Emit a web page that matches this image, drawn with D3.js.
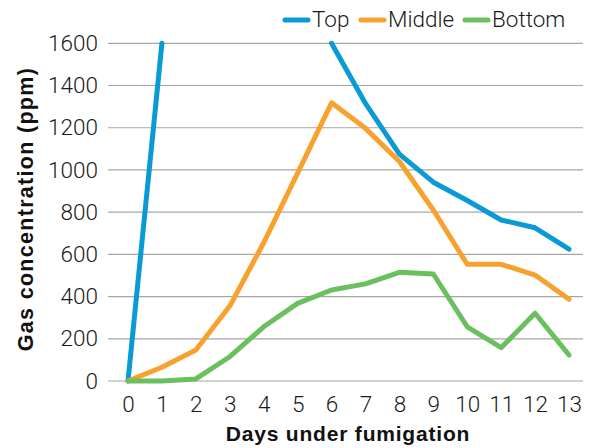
<!DOCTYPE html>
<html>
<head>
<meta charset="utf-8">
<script src="https://cdn.jsdelivr.net/npm/d3@7"></script>
<style>
  body { margin: 0; background: #fff; }
  svg text { font-family: "Liberation Sans", Arial, sans-serif; }
  .light { font-family: Roboto, "Liberation Sans", Arial, sans-serif; font-weight: 300; }
</style>
</head>
<body>
<svg width="591" height="448"></svg>
<script>
const days = [0, 1, 2, 3, 4, 5, 6, 7, 8, 9, 10, 11, 12, 13];
const yTicks = [0, 200, 400, 600, 800, 1000, 1200, 1400, 1600];
const seriesNames = ["Top", "Middle", "Bottom"];
const seriesColors = ["#0a9bd7", "#f9a12e", "#6abf5e"];
// null = off the chart (not drawn)
const topValues = [0, 1600, null, null, null, null, 1600, 1315, 1075, 942, 855, 763, 726, 625];
const middleValues = [0, 65, 147, 355, 655, 985, 1318, 1197, 1040, 810, 553, 553, 502, 387];
const bottomValues = [0, 0, 10, 115, 257, 368, 431, 460, 515, 507, 257, 158, 321, 123];

const svg = d3.select("svg");

const xScale = d3.scalePoint()
    .domain(days)
    .range([128, 569]);

const yScale = d3.scaleLinear()
    .domain([0, 1600])
    .range([381, 43.3]);

// gridlines
svg.append("g")
    .selectAll("line")
    .data(yTicks)
    .enter().append("line")
    .attr("x1", 108)
    .attr("x2", 583)
    .attr("y1", d => yScale(d))
    .attr("y2", d => yScale(d))
    .attr("stroke", "#a6a6a6")
    .attr("stroke-width", 1.2);

// y axis
const yAxisG = svg.append("g")
    .attr("transform", "translate(108,0)")
    .call(d3.axisLeft(yScale).tickValues(yTicks).tickFormat(d3.format("d")).tickSize(0).tickPadding(10));
yAxisG.select(".domain").remove();
yAxisG.selectAll("text")
    .attr("class", "light")
    .attr("font-size", 22.5)
    .attr("fill", "#1a1a1a");

// x axis
const xAxisG = svg.append("g")
    .attr("transform", "translate(0,381)")
    .call(d3.axisBottom(xScale).tickSize(0).tickPadding(15.5));
xAxisG.select(".domain").remove();
xAxisG.selectAll("text")
    .attr("class", "light")
    .attr("font-size", 22.5)
    .attr("fill", "#1a1a1a");

// lines
const line = d3.line()
    .defined(d => d.v !== null)
    .x(d => xScale(d.day))
    .y(d => yScale(d.v));

const allSeries = [topValues, middleValues, bottomValues];
allSeries.forEach((vals, i) => {
    svg.append("path")
        .datum(days.map((day, j) => ({ day: day, v: vals[j] })))
        .attr("fill", "none")
        .attr("stroke", seriesColors[i])
        .attr("stroke-width", 5)
        .attr("stroke-linejoin", "round")
        .attr("stroke-linecap", "round")
        .attr("d", line);
});

// legend
const legendTextX = [312, 388, 492];
const legend = svg.append("g");
seriesNames.forEach((name, i) => {
    legend.append("line")
        .attr("x1", legendTextX[i] - 27)
        .attr("x2", legendTextX[i] - 4)
        .attr("y1", 20)
        .attr("y2", 20)
        .attr("stroke", seriesColors[i])
        .attr("stroke-width", 5)
        .attr("stroke-linecap", "round");
    legend.append("text")
        .attr("class", "light")
        .attr("x", legendTextX[i])
        .attr("y", 27)
        .attr("font-size", 22.5)
        .attr("fill", "#1a1a1a")
        .text(name);
});

// axis titles
svg.append("text")
    .attr("x", 348)
    .attr("y", 441)
    .attr("text-anchor", "middle")
    .attr("font-size", 21)
    .attr("font-weight", "bold")
    .attr("letter-spacing", 0.8)
    .attr("fill", "#111")
    .text("Days under fumigation");

svg.append("text")
    .attr("transform", "translate(33,209) rotate(-90)")
    .attr("text-anchor", "middle")
    .attr("font-size", 21.5)
    .attr("font-weight", "bold")
    .attr("letter-spacing", 1.3)
    .attr("fill", "#111")
    .text("Gas concentration (ppm)");
</script>
</body>
</html>
